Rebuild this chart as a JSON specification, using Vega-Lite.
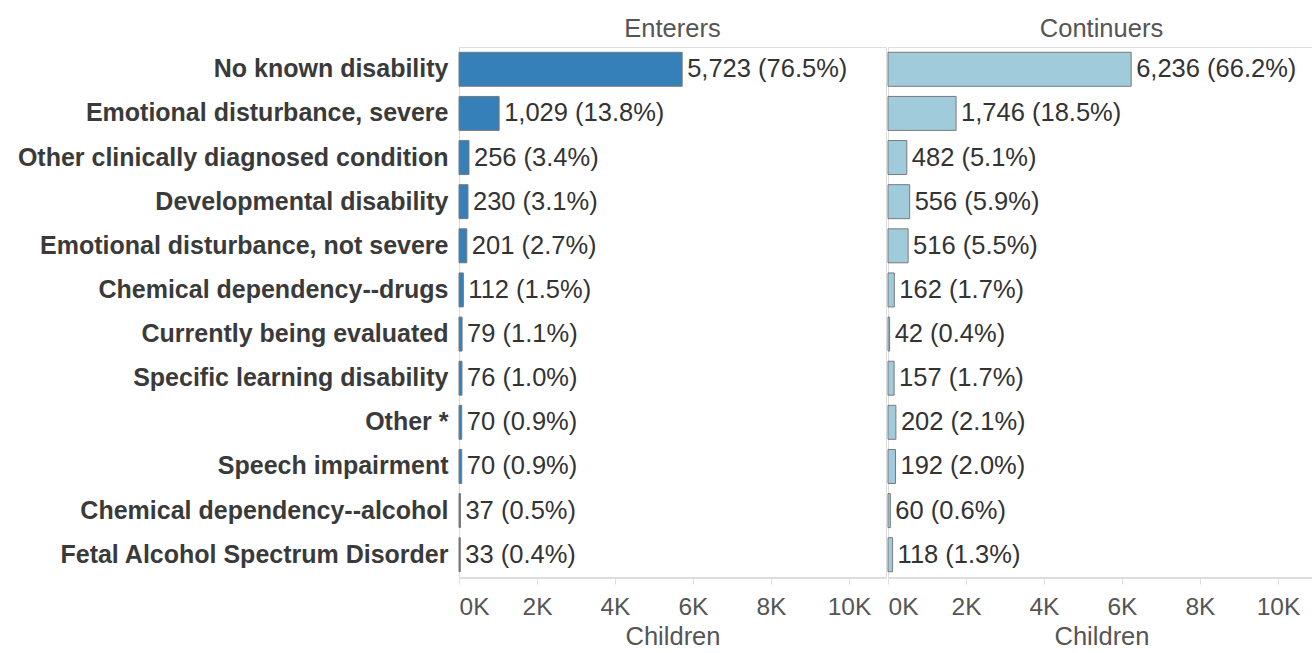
{
  "$schema": "https://vega.github.io/schema/vega-lite/v6.json",
  "padding": {"left": 17, "top": 16, "right": 0, "bottom": 0},
  "background": "white",
  "data": {"values": [
    {"group": "Enterers", "category": "No known disability", "count": 5723, "pct": 76.5},
    {"group": "Enterers", "category": "Emotional disturbance, severe", "count": 1029, "pct": 13.8},
    {"group": "Enterers", "category": "Other clinically diagnosed condition", "count": 256, "pct": 3.4},
    {"group": "Enterers", "category": "Developmental disability", "count": 230, "pct": 3.1},
    {"group": "Enterers", "category": "Emotional disturbance, not severe", "count": 201, "pct": 2.7},
    {"group": "Enterers", "category": "Chemical dependency--drugs", "count": 112, "pct": 1.5},
    {"group": "Enterers", "category": "Currently being evaluated", "count": 79, "pct": 1.1},
    {"group": "Enterers", "category": "Specific learning disability", "count": 76, "pct": 1.0},
    {"group": "Enterers", "category": "Other *", "count": 70, "pct": 0.9},
    {"group": "Enterers", "category": "Speech impairment", "count": 70, "pct": 0.9},
    {"group": "Enterers", "category": "Chemical dependency--alcohol", "count": 37, "pct": 0.5},
    {"group": "Enterers", "category": "Fetal Alcohol Spectrum Disorder", "count": 33, "pct": 0.4},
    {"group": "Continuers", "category": "No known disability", "count": 6236, "pct": 66.2},
    {"group": "Continuers", "category": "Emotional disturbance, severe", "count": 1746, "pct": 18.5},
    {"group": "Continuers", "category": "Other clinically diagnosed condition", "count": 482, "pct": 5.1},
    {"group": "Continuers", "category": "Developmental disability", "count": 556, "pct": 5.9},
    {"group": "Continuers", "category": "Emotional disturbance, not severe", "count": 516, "pct": 5.5},
    {"group": "Continuers", "category": "Chemical dependency--drugs", "count": 162, "pct": 1.7},
    {"group": "Continuers", "category": "Currently being evaluated", "count": 42, "pct": 0.4},
    {"group": "Continuers", "category": "Specific learning disability", "count": 157, "pct": 1.7},
    {"group": "Continuers", "category": "Other *", "count": 202, "pct": 2.1},
    {"group": "Continuers", "category": "Speech impairment", "count": 192, "pct": 2.0},
    {"group": "Continuers", "category": "Chemical dependency--alcohol", "count": 60, "pct": 0.6},
    {"group": "Continuers", "category": "Fetal Alcohol Spectrum Disorder", "count": 118, "pct": 1.3}
  ]},
  "transform": [
    {"calculate": "format(datum.count, ',') + ' (' + format(datum.pct, '.1f') + '%)'", "as": "label"}
  ],
  "facet": {
    "column": {
      "field": "group",
      "type": "nominal",
      "sort": ["Enterers", "Continuers"],
      "header": {"title": null, "labelFontSize": 25.5, "labelColor": "#555555", "labelFont": "Liberation Sans", "labelPadding": 4}
    }
  },
  "spacing": 0,
  "spec": {
    "width": 427,
    "height": 530,
    "encoding": {
      "y": {
        "field": "category",
        "type": "nominal",
        "sort": ["No known disability", "Emotional disturbance, severe", "Other clinically diagnosed condition", "Developmental disability", "Emotional disturbance, not severe", "Chemical dependency--drugs", "Currently being evaluated", "Specific learning disability", "Other *", "Speech impairment", "Chemical dependency--alcohol", "Fetal Alcohol Spectrum Disorder"],
        "scale": {"paddingInner": 0.23, "paddingOuter": 0.12},
        "axis": {"title": null, "ticks": false, "domain": false, "labelFontWeight": "bold", "labelFontSize": 25, "labelColor": "#3a3a3a", "labelFont": "Liberation Sans", "labelPadding": 10, "labelLimit": 600}
      },
      "x": {
        "field": "count",
        "type": "quantitative",
        "scale": {"domain": [0, 10950], "nice": false},
        "axis": {
          "values": [0, 2000, 4000, 6000, 8000, 10000],
          "labelExpr": "datum.value / 1000 + 'K'",
          "title": "Children",
          "titleFontSize": 25.5,
          "titleFontWeight": "normal",
          "titleColor": "#555555",
          "titleFont": "Liberation Sans",
          "titlePadding": 6,
          "labelFontSize": 24.5,
          "labelColor": "#555555",
          "labelFont": "Liberation Sans",
          "labelFlush": true,
          "labelPadding": 11,
          "grid": false,
          "domainColor": "#dddddd",
          "tickColor": "#dddddd",
          "tickSize": 6
        }
      }
    },
    "layer": [
      {
        "mark": {"type": "bar", "stroke": "#7a7a7a", "strokeWidth": 1},
        "encoding": {
          "color": {"field": "group", "type": "nominal", "scale": {"domain": ["Enterers", "Continuers"], "range": ["#3580b8", "#a0cbdb"]}, "legend": null}
        }
      },
      {
        "mark": {"type": "text", "align": "left", "baseline": "middle", "dx": 5, "fontSize": 25.5, "font": "Liberation Sans", "color": "#333333"},
        "encoding": {"text": {"field": "label"}}
      }
    ]
  },
  "config": {
    "view": {"stroke": "#dddddd", "strokeWidth": 1}
  }
}
